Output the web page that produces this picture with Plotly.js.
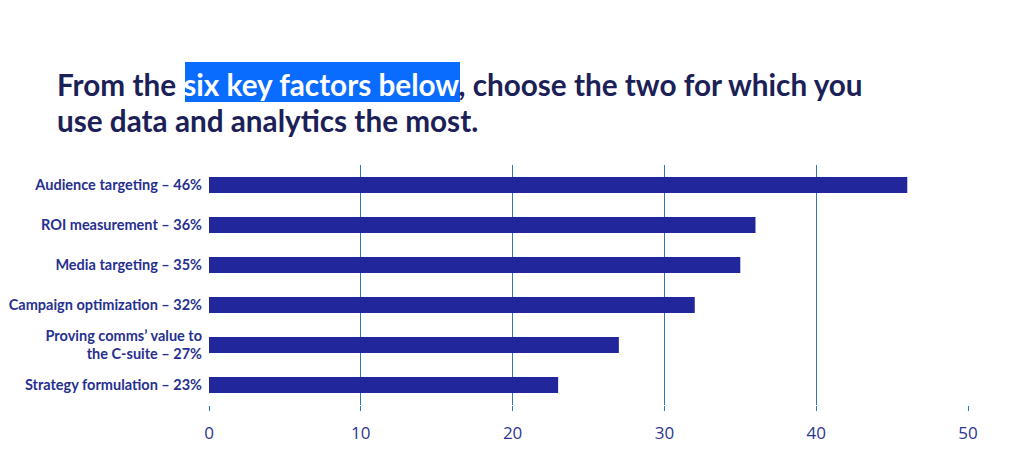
<!DOCTYPE html>
<html>
<head>
<meta charset="utf-8">
<script src="https://cdn.plot.ly/plotly-3.0.1.min.js"></script>
<style>html,body{margin:0;padding:0;background:#fff;}#chart{width:1024px;height:475px;}</style>
</head>
<body>
<div id="chart"></div>
<script>
const categories = [
  "Audience targeting – 46%",
  "ROI measurement – 36%",
  "Media targeting – 35%",
  "Campaign optimization – 32%",
  "Proving comms’ value to<br>the C-suite – 27%",
  "Strategy formulation – 23%"
];
const values = [46, 36, 35, 32, 27, 23];
const xTicks = [0, 10, 20, 30, 40, 50];
const titleLines = [
  'From the <span style="color:#ffffff">six key factors below</span>, choose the two for which you',
  'use data and analytics the most.'
];

const W = 1024, H = 475;
const L = 209, R = 968, T = 165, B = 405;
const px = v => (v - L) / (R - L);
const py = v => (B - v) / (B - T);

const trace = {
  type: 'bar',
  orientation: 'h',
  x: values,
  y: categories,
  width: 0.4,
  marker: {color: '#21279b'},
  hoverinfo: 'x+y'
};

const titleFont = {family: 'Lato, "Open Sans", sans-serif', size: 29.7, color: '#1b2157', weight: 'bold'};

const layout = {
  width: W, height: H,
  margin: {l: L, r: W - R, t: T, b: H - B, pad: 0},
  paper_bgcolor: '#ffffff',
  plot_bgcolor: '#ffffff',
  showlegend: false,
  annotations: [
    {text: titleLines[0], xref: 'paper', yref: 'paper', x: px(55), y: py(84), xanchor: 'left', yanchor: 'middle', showarrow: false, font: titleFont, align: 'left'},
    {text: titleLines[1], xref: 'paper', yref: 'paper', x: px(55), y: py(120), xanchor: 'left', yanchor: 'middle', showarrow: false, font: titleFont, align: 'left'}
  ],
  xaxis: {
    range: [0, 50],
    tickvals: xTicks,
    ticktext: xTicks.map(String),
    showgrid: true,
    gridcolor: '#2e75b6',
    gridwidth: 1,
    zeroline: false,
    showline: false,
    ticks: 'outside',
    ticklen: 5,
    tickcolor: '#2e75b6',
    ticklabelstandoff: 8,
    tickfont: {family: '"Open Sans", sans-serif', size: 17, color: '#2e3590'},
    fixedrange: true
  },
  yaxis: {
    autorange: 'reversed',
    showgrid: false,
    zeroline: false,
    showline: false,
    ticks: '',
    ticklabelstandoff: 6,
    tickfont: {family: 'Lato, "Open Sans", sans-serif', size: 14.5, color: '#27308f', weight: 'bold'},
    fixedrange: true
  },
  shapes: [{
    type: 'rect', xref: 'paper', yref: 'paper',
    x0: px(185), x1: px(460),
    y0: py(102), y1: py(62),
    fillcolor: '#0a6cff', line: {width: 0}, layer: 'below'
  }],
  bargap: 0.6
};

Plotly.newPlot('chart', [trace], layout, {displayModeBar: false, staticPlot: true});
</script>
</body>
</html>
